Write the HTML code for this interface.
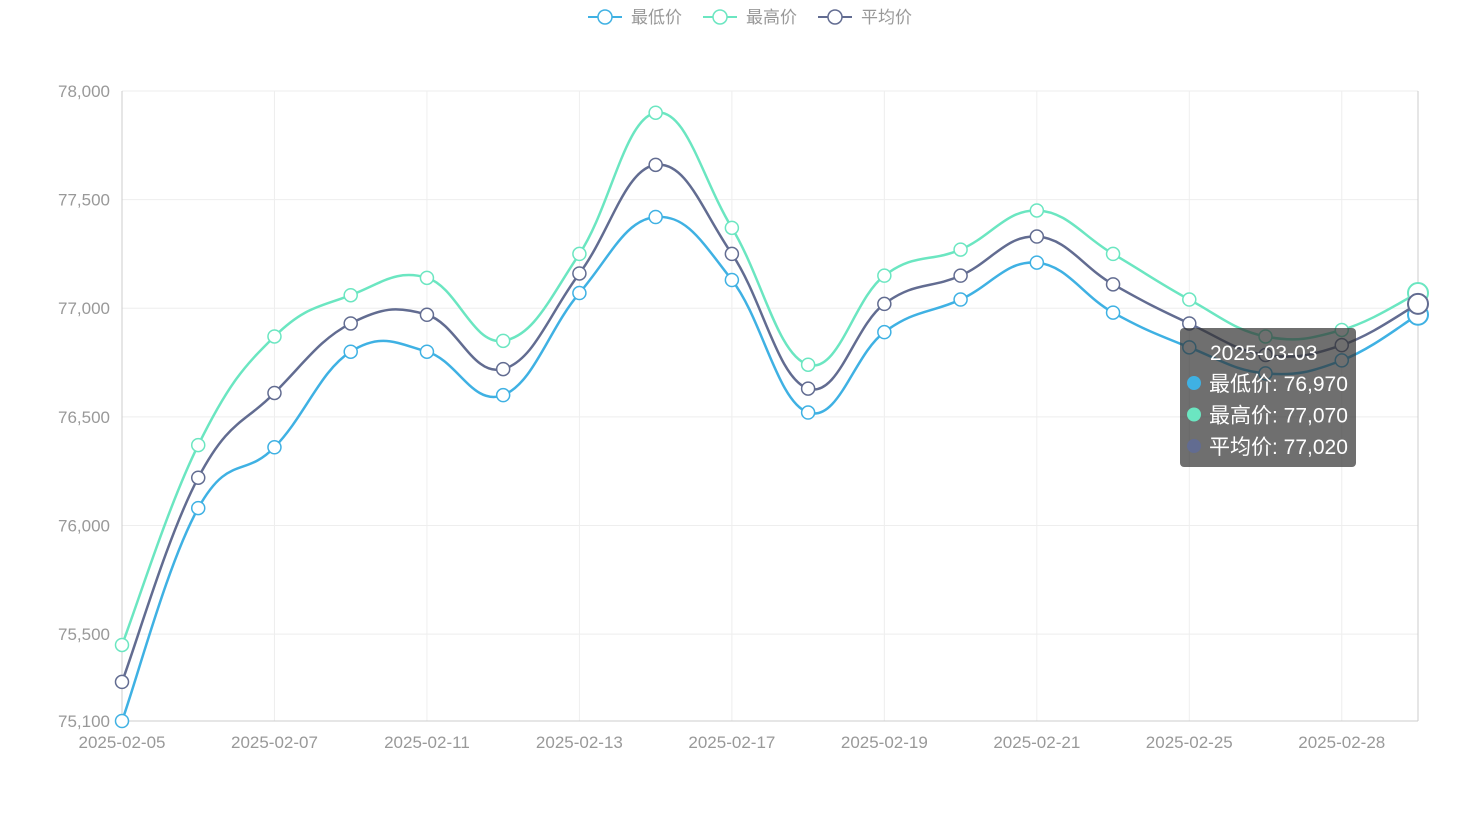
<!DOCTYPE html>
<html><head><meta charset="utf-8">
<style>
html,body{margin:0;padding:0;background:#fff;}
svg{display:block;font-family:"Liberation Sans","Noto Sans CJK SC",sans-serif;}
</style></head>
<body>
<svg id="chart" width="1476" height="813" viewBox="0 0 1476 813">
 <g id="grid"></g>
 <g id="axes"></g>
 <g id="series"></g>
 <g id="legend"></g>
 <g id="tooltip"></g>
</svg>
<script>
const categories=["2025-02-05","2025-02-06","2025-02-07","2025-02-10","2025-02-11","2025-02-12","2025-02-13","2025-02-14","2025-02-17","2025-02-18","2025-02-19","2025-02-20","2025-02-21","2025-02-24","2025-02-25","2025-02-26","2025-02-28","2025-03-03"];
const lowValues=[75100,76080,76360,76800,76800,76600,77070,77420,77130,76520,76890,77040,77210,76980,76820,76700,76760,76970];
const highValues=[75450,76370,76870,77060,77140,76850,77250,77900,77370,76740,77150,77270,77450,77250,77040,76870,76900,77070];
const avgValues=[75280,76220,76610,76930,76970,76720,77160,77660,77250,76630,77020,77150,77330,77110,76930,76785,76830,77020];
const yTicks=[75100,75500,76000,76500,77000,77500,78000];
const seriesNames=["最低价","最高价","平均价"];

const NS="http://www.w3.org/2000/svg";
const X0=122,X1=1418,Y0=721,Y1=91,YMIN=75100,YMAX=78000;
const xS=i=>X0+(X1-X0)*i/(categories.length-1);
const yS=v=>Y0-(v-YMIN)/(YMAX-YMIN)*(Y0-Y1);
function mk(tag,attrs,parent){const e=document.createElementNS(NS,tag);for(const k in attrs)e.setAttribute(k,attrs[k]);parent.appendChild(e);return e;}
const grid=document.getElementById('grid'),axes=document.getElementById('axes'),ser=document.getElementById('series'),leg=document.getElementById('legend'),tip=document.getElementById('tooltip');
const fmt=v=>v.toLocaleString('en-US');

yTicks.forEach(v=>{
 const l=mk('line',{x1:X0,x2:X1,y1:yS(v),y2:yS(v),stroke:'#eeeeee'},grid);
 
 
 const t=mk('text',{x:110,y:yS(v)+6,'text-anchor':'end','font-size':17,fill:'#999'},axes);
 t.textContent=fmt(v);
 
 
});
categories.forEach((c,i)=>{
 if(i%2!==0 && i!==categories.length-1)return;
 if(i===categories.length-1)return;
 const l=mk('line',{x1:xS(i),x2:xS(i),y1:Y1,y2:Y0,stroke:'#eeeeee'},grid);
 
 
 const t=mk('text',{x:xS(i),y:748,'text-anchor':'middle','font-size':17,fill:'#999'},axes);
 t.textContent=c;
 
 
});
const ax=mk('line',{x1:X0,x2:X1,y1:Y0,y2:Y0,stroke:'#ccc'},axes);


const ay=mk('line',{x1:X0,x2:X0,y1:Y1,y2:Y0,stroke:'#ccc'},axes);


const ay2=mk('line',{x1:X1,x2:X1,y1:Y1,y2:Y0,stroke:'#ccc'},axes);



function smoothPath(pts){
 let d=`M${pts[0][0]},${pts[0][1]}`;const s=0.2;
 for(let i=0;i<pts.length-1;i++){
  const p0=pts[i-1]||pts[i],p1=pts[i],p2=pts[i+1],p3=pts[i+2]||p2;
  const c1=[p1[0]+(p2[0]-p0[0])*s,p1[1]+(p2[1]-p0[1])*s];
  const c2=[p2[0]-(p3[0]-p1[0])*s,p2[1]-(p3[1]-p1[1])*s];
  d+=` C${c1[0]},${c1[1]} ${c2[0]},${c2[1]} ${p2[0]},${p2[1]}`;
 }
 return d;
}
const all=[[lowValues,'#3fb1e3','series-low'],[highValues,'#6be6c1','series-high'],[avgValues,'#626c91','series-avg']];
all.forEach(([vals,col,name])=>{
 const g=mk('g',{},ser);
 
 
 const pts=vals.map((v,i)=>[xS(i),yS(v)]);
 const p=mk('path',{d:smoothPath(pts),fill:'none',stroke:col,'stroke-width':2.5},g);
 
 
 pts.forEach((pt,i)=>{
  const last=i===pts.length-1;
  const c=mk('circle',{cx:pt[0],cy:pt[1],r:last?10:6.5,fill:'#fff',stroke:col,'stroke-width':last?2:1.5},g);
  
  
 });
});

const legCols=['#3fb1e3','#6be6c1','#626c91'];
const legX=[588,703,818];
seriesNames.forEach((n,i)=>{
 const g=mk('g',{},leg);
 
 
 mk('line',{x1:legX[i],x2:legX[i]+34,y1:17,y2:17,stroke:legCols[i],'stroke-width':2},g);
 mk('circle',{cx:legX[i]+17,cy:17,r:7,fill:'#fff',stroke:legCols[i],'stroke-width':1.5},g);
 const t=mk('text',{x:legX[i]+43,y:23,'font-size':17,fill:'#999'},g);
 t.textContent=n;
});

mk('rect',{x:1180,y:328,width:176,height:139,rx:4,fill:'rgba(50,50,50,0.7)'},tip);
const li=categories.length-1;
const tt=mk('text',{x:1210,y:360,'font-size':21,fill:'#fff'},tip);tt.textContent=categories[li];


[lowValues,highValues,avgValues].forEach((vals,i)=>{
 const y=383+i*31.5;
 mk('circle',{cx:1194,cy:y,r:7,fill:legCols[i]},tip);
 const t=mk('text',{x:1209,y:y+8,'font-size':21,fill:'#fff'},tip);
 t.textContent=seriesNames[i]+': '+fmt(vals[li]);
 
 
});
</script>
</body></html>
